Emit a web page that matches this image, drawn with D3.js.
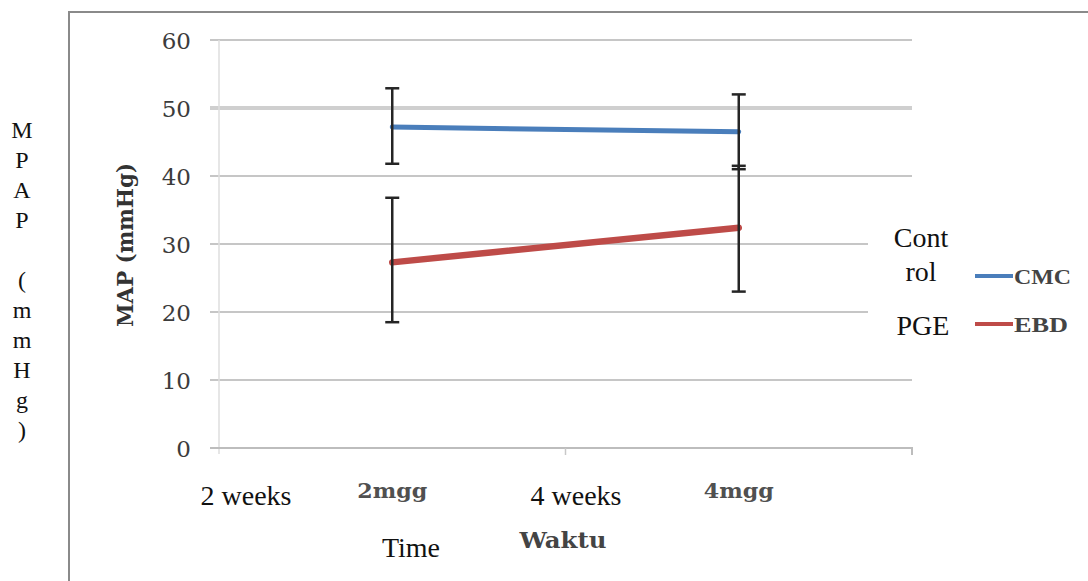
<!DOCTYPE html>
<html>
<head>
<meta charset="utf-8">
<script src="https://cdn.jsdelivr.net/npm/d3@7"></script>
<style>
  body { margin: 0; background: #fff; }
  svg { display: block; }
</style>
</head>
<body>
<svg id="chart" width="1088" height="581"></svg>
<script>
var categories = ["2mgg", "4mgg"];
var weekLabels = ["2 weeks", "4 weeks"];
var yTicks = [0, 10, 20, 30, 40, 50, 60];
var cmcMean = [47.2, 46.5];
var cmcLow = [41.8, 41.0];
var cmcHigh = [52.9, 52.0];
var ebdMean = [27.3, 32.4];
var ebdLow = [18.5, 23.0];
var ebdHigh = [36.8, 41.5];
var sideLabel = ["M", "P", "A", "P", "", "(", "m", "m", "H", "g", ")"];

var series = [
    { name: "CMC", color: "#4a7ebb", width: 5, mean: cmcMean, low: cmcLow, high: cmcHigh },
    { name: "EBD", color: "#be4b48", width: 6.5, mean: ebdMean, low: ebdLow, high: ebdHigh }
];

var TIMES = "'Liberation Serif', 'Times New Roman', serif";
var CAMBRIA = "'DejaVu Serif', serif";

var svg = d3.select("#chart");
var plotLeft = 219, plotRight = 912, plotTop = 40, plotBottom = 448;

var x = d3.scaleBand().domain(categories).range([plotLeft, plotRight]);
var y = d3.scaleLinear().domain([0, 60]).range([plotBottom, plotTop]);
var cx = function (c) { return x(c) + x.bandwidth() / 2; };

// outer frame from the scanned page
svg.append("path")
    .attr("d", "M69,581V12H1088")
    .attr("fill", "none")
    .attr("stroke", "#8a8a8a")
    .attr("stroke-width", 2);

// gridlines
svg.append("g").selectAll("line")
    .data(yTicks.filter(function (d) { return d > 0; }))
    .join("line")
    .attr("x1", plotLeft - 9).attr("x2", plotRight)
    .attr("y1", function (d) { return y(d); })
    .attr("y2", function (d) { return y(d); })
    .attr("stroke", function (d) { return d === 50 ? "#cfcfcf" : "#c6c6c6"; })
    .attr("stroke-width", function (d) { return d === 50 ? 4 : 2; });

// y axis line
svg.append("line")
    .attr("x1", plotLeft).attr("x2", plotLeft).attr("y1", plotTop).attr("y2", plotBottom + 6)
    .attr("stroke", "#dedede").attr("stroke-width", 1.5);

// x axis
var xAxis = d3.axisBottom(x).tickSize(0).tickFormat("");
var gx = svg.append("g").attr("transform", "translate(0," + plotBottom + ")").call(xAxis);
gx.select(".domain").attr("stroke", "#bdbdbd").attr("stroke-width", 2)
    .attr("d", "M" + (plotLeft - 9) + ",0H" + plotRight + "V7");
gx.append("line")
    .attr("x1", (plotLeft + plotRight) / 2).attr("x2", (plotLeft + plotRight) / 2)
    .attr("y1", 0).attr("y2", 7)
    .attr("stroke", "#c8c8c8").attr("stroke-width", 1.5);

// y tick labels
var yAxis = d3.axisLeft(y).tickValues(yTicks).tickSize(0).tickPadding(0);
var gy = svg.append("g").attr("transform", "translate(" + (plotLeft - 28) + ",0)").call(yAxis);
gy.select(".domain").remove();
gy.selectAll("text")
    .style("font-family", CAMBRIA)
    .style("font-size", "23px")
    .attr("fill", "#3c3c3c")
    .attr("dy", "0.36em");

// white patch where the pasted legend text sits
svg.append("rect")
    .attr("x", 868).attr("y", 222).attr("width", 60).attr("height", 105)
    .attr("fill", "#fff");

// lines
var line = d3.line()
    .x(function (d, i) { return cx(categories[i]); })
    .y(function (d) { return y(d); });

series.forEach(function (s) {
    svg.append("path")
        .attr("d", line(s.mean))
        .attr("fill", "none")
        .attr("stroke", s.color)
        .attr("stroke-width", s.width)
        .attr("stroke-linecap", "round");
});

// error bars
series.forEach(function (s) {
    var g = svg.append("g").attr("stroke", "#252525").attr("stroke-width", 2.5);
    categories.forEach(function (c, i) {
        g.append("line").attr("x1", cx(c)).attr("x2", cx(c))
            .attr("y1", y(s.low[i])).attr("y2", y(s.high[i]));
        [s.low[i], s.high[i]].forEach(function (v) {
            g.append("line").attr("x1", cx(c) - 7).attr("x2", cx(c) + 7)
                .attr("y1", y(v)).attr("y2", y(v));
        });
    });
});

// category labels
svg.append("g").selectAll("text")
    .data(categories)
    .join("text")
    .attr("x", cx)
    .attr("y", 498)
    .attr("text-anchor", "middle")
    .style("font-family", CAMBRIA)
    .style("font-weight", "bold")
    .style("font-size", "21px")
    .attr("textLength", 70)
    .attr("lengthAdjust", "spacingAndGlyphs")
    .attr("fill", "#505050")
    .text(function (d) { return d; });

var weekX = [246, 576];
svg.append("g").selectAll("text")
    .data(weekLabels)
    .join("text")
    .attr("x", function (d, i) { return weekX[i]; })
    .attr("y", 505)
    .attr("text-anchor", "middle")
    .style("font-family", TIMES)
    .style("font-size", "28px")
    .attr("fill", "#111")
    .text(function (d) { return d; });

svg.append("text")
    .attr("x", 563).attr("y", 548)
    .attr("text-anchor", "middle")
    .style("font-family", CAMBRIA)
    .style("font-weight", "bold")
    .style("font-size", "22px")
    .attr("textLength", 87)
    .attr("lengthAdjust", "spacingAndGlyphs")
    .attr("fill", "#444")
    .text("Waktu");

svg.append("text")
    .attr("x", 411).attr("y", 557)
    .attr("text-anchor", "middle")
    .style("font-family", TIMES)
    .style("font-size", "28px")
    .attr("fill", "#111")
    .text("Time");

// y axis title
svg.append("text")
    .attr("transform", "translate(133,245) rotate(-90)")
    .attr("text-anchor", "middle")
    .style("font-family", CAMBRIA)
    .style("font-weight", "bold")
    .style("font-size", "22px")
    .attr("textLength", 164)
    .attr("lengthAdjust", "spacingAndGlyphs")
    .attr("fill", "#333")
    .text("MAP (mmHg)");

// vertical side label
svg.append("g").selectAll("text")
    .data(sideLabel)
    .join("text")
    .attr("x", 22)
    .attr("y", function (d, i) { return 138 + i * 30; })
    .attr("text-anchor", "middle")
    .style("font-family", TIMES)
    .style("font-size", "24px")
    .attr("fill", "#111")
    .text(function (d) { return d; });

// legend
var legendY = [276, 324];
var lg = svg.append("g");
series.forEach(function (s, i) {
    lg.append("line")
        .attr("x1", 975).attr("x2", 1013)
        .attr("y1", legendY[i]).attr("y2", legendY[i])
        .attr("stroke", s.color).attr("stroke-width", 4);
    lg.append("text")
        .attr("x", 1014).attr("y", legendY[i] + 8)
        .style("font-family", TIMES)
        .style("font-weight", "bold")
        .style("font-size", "22px")
        .attr("textLength", i === 0 ? 57 : 54)
        .attr("lengthAdjust", "spacingAndGlyphs")
        .attr("fill", "#444")
        .text(s.name);
});

var pasted = [["Cont", 921, 247], ["rol", 921, 281], ["PGE", 923, 335]];
svg.append("g").selectAll("text")
    .data(pasted)
    .join("text")
    .attr("x", function (d) { return d[1]; })
    .attr("y", function (d) { return d[2]; })
    .attr("text-anchor", "middle")
    .style("font-family", TIMES)
    .style("font-size", "28px")
    .attr("fill", "#111")
    .text(function (d) { return d[0]; });
</script>
</body>
</html>
